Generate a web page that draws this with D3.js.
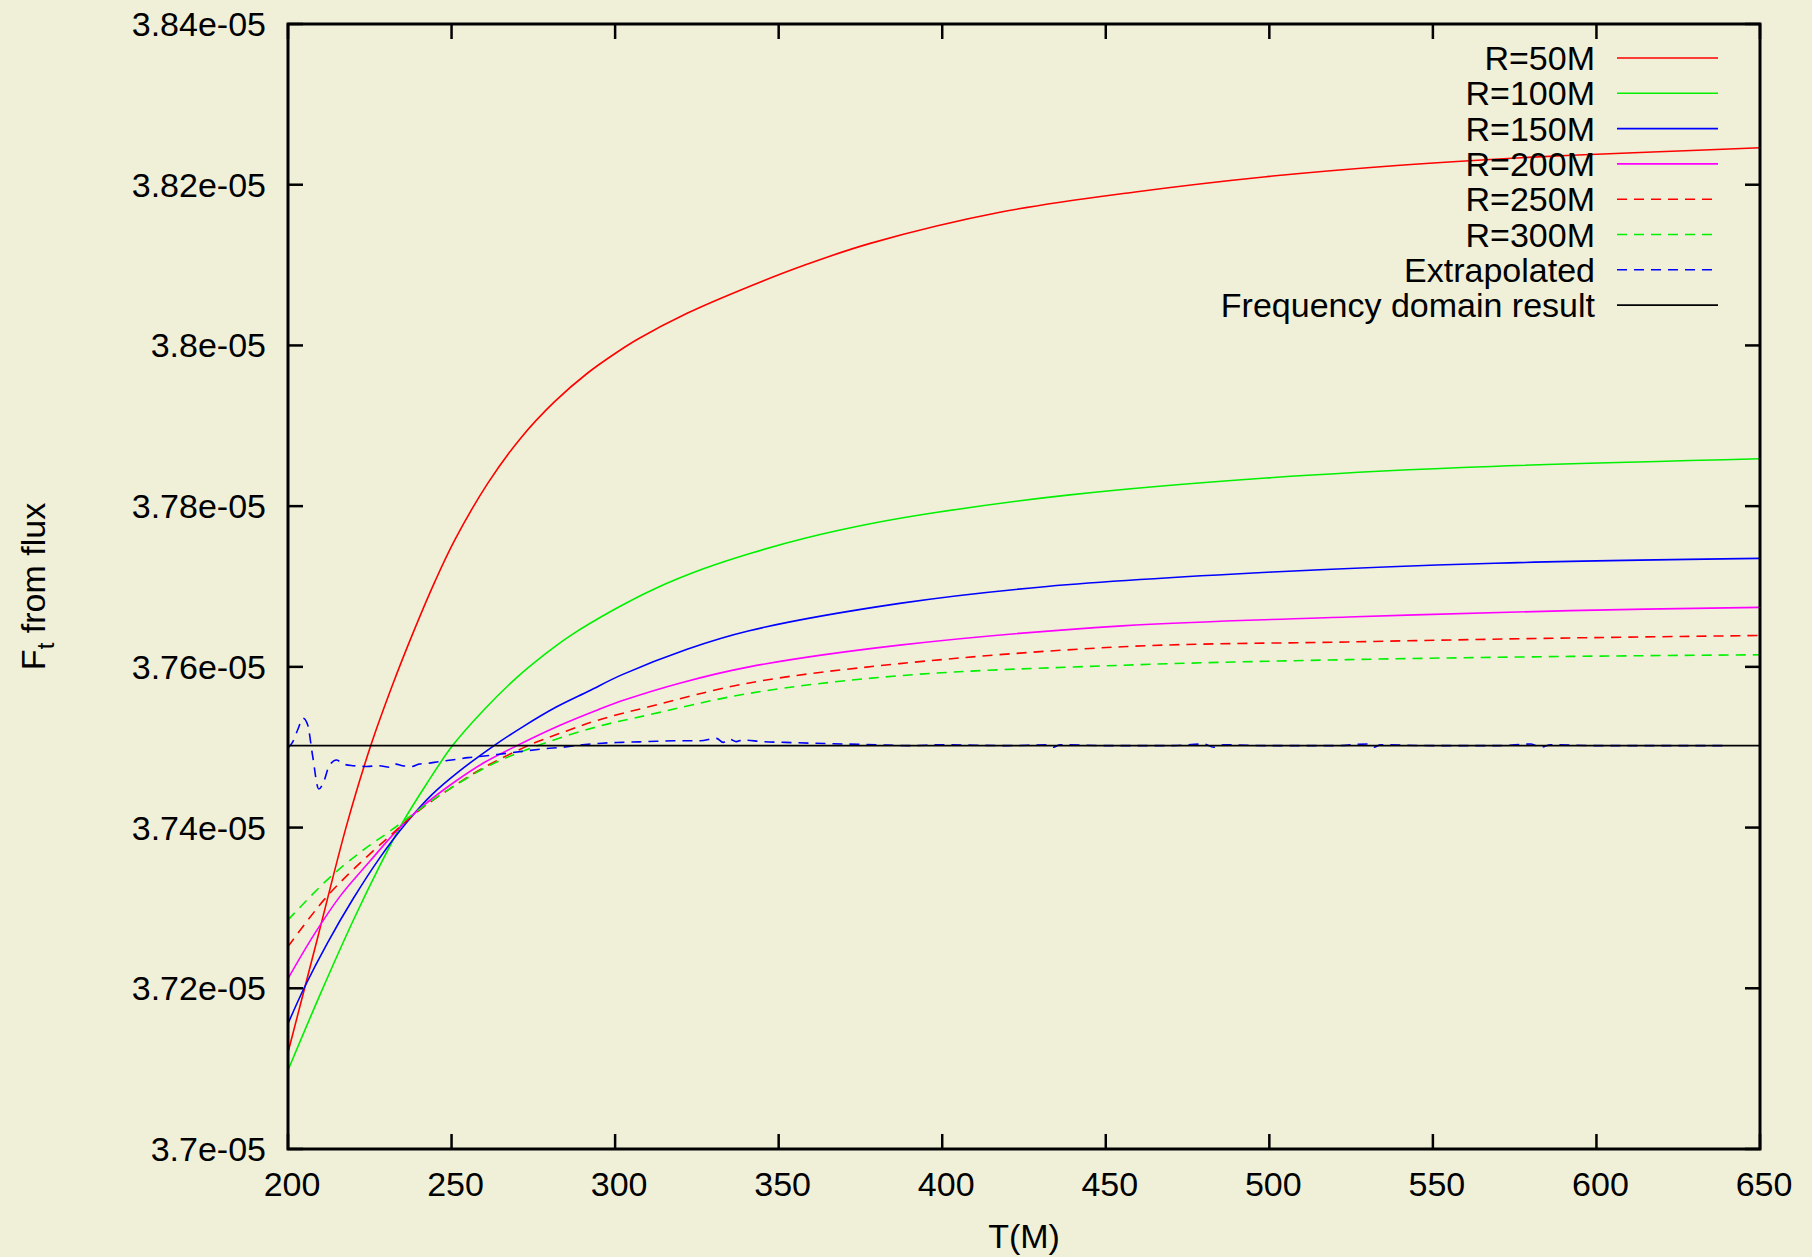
<!DOCTYPE html>
<html>
<head>
<meta charset="utf-8">
<script src="https://cdn.jsdelivr.net/npm/d3@7"></script>
<style>
  body { margin: 0; background: #f0f0d8; }
  svg { display: block; }
  text { font-family: "Liberation Sans", Arial, sans-serif; fill: #000; }
</style>
</head>
<body>
<svg id="chart" width="1812" height="1257"></svg>
<script>
// values of F_t are in units of 1e-05
var xTicks = [200, 250, 300, 350, 400, 450, 500, 550, 600, 650];
var yTicks = [3.70, 3.72, 3.74, 3.76, 3.78, 3.80, 3.82, 3.84];
var yTickLabels = ["3.7e-05", "3.72e-05", "3.74e-05", "3.76e-05", "3.78e-05", "3.8e-05", "3.82e-05", "3.84e-05"];

var labels = ["R=50M", "R=100M", "R=150M", "R=200M", "R=250M", "R=300M", "Extrapolated", "Frequency domain result"];

var r50T = [200, 209, 218, 225.3, 232, 238.2, 245, 251, 261, 271, 281.5, 291.7, 300, 307, 322, 339, 358, 378, 418, 459, 499, 539, 579, 619, 650];
var r50V = [3.7120, 3.7262, 3.7404, 3.7502, 3.7578, 3.7642, 3.7707, 3.7758, 3.7828, 3.7884, 3.7930, 3.7966, 3.7990, 3.8008, 3.8040, 3.8070, 3.8100, 3.8127, 3.8166, 3.8191, 3.8210, 3.8224, 3.8234, 3.8241, 3.8246];

var r100T = [200, 210, 220, 228, 235, 242, 250.3, 260, 270, 278, 286, 300, 312, 327, 342, 358, 378, 398, 439, 499, 559, 650];
var r100V = [3.7098, 3.7194, 3.7285, 3.7352, 3.7406, 3.7452, 3.7502, 3.7547, 3.7587, 3.7614, 3.7638, 3.7672, 3.7697, 3.7722, 3.7742, 3.7760, 3.7778, 3.7792, 3.7814, 3.7835, 3.7848, 3.7859];

var r150T = [200, 205, 212, 220, 228, 236, 244, 252, 263, 272, 282, 292, 302, 322, 341, 387, 432, 501, 569, 650];
var r150V = [3.7156, 3.7201, 3.7256, 3.7312, 3.7362, 3.7405, 3.7441, 3.7469, 3.7502, 3.7526, 3.7550, 3.7570, 3.7590, 3.7622, 3.7645, 3.7679, 3.7700, 3.7718, 3.7729, 3.7735];

var r200T = [200, 208, 216, 225, 233, 241, 251, 260, 270, 283, 295, 303, 320, 341, 387, 455, 524, 592, 650];
var r200V = [3.7212, 3.7267, 3.7315, 3.7358, 3.7395, 3.7426, 3.7457, 3.7481, 3.7502, 3.7527, 3.7547, 3.7559, 3.7580, 3.7600, 3.7627, 3.7651, 3.7662, 3.7670, 3.7674];

var r250T = [200, 211, 220, 231, 240, 249, 260, 274, 285, 295, 310, 341, 387, 455, 524, 592, 650];
var r250V = [3.7252, 3.7310, 3.7348, 3.7389, 3.7421, 3.7447, 3.7475, 3.7503, 3.7520, 3.7534, 3.7550, 3.7580, 3.7604, 3.7625, 3.7631, 3.7636, 3.7639];

var r300T = [200, 212, 222, 231, 240, 249, 262, 277, 295, 310, 341, 387, 455, 524, 592, 650];
var r300V = [3.7285, 3.7335, 3.7369, 3.7395, 3.7422, 3.7447, 3.7478, 3.7503, 3.7526, 3.7540, 3.7567, 3.7589, 3.7602, 3.7609, 3.7613, 3.7615];

var extT = [200, 201.5, 203, 204.6, 206, 207.5, 209.4, 211, 212.5, 214.8, 217, 220, 224, 228, 231, 233, 235, 238, 240, 243, 246, 250, 255, 260, 266, 272, 278, 284, 290, 296, 302, 310, 318, 326, 331, 333, 335, 337, 339, 345, 352, 360, 370, 380, 390, 400, 420, 432, 434, 436, 450, 470, 480, 483, 486, 500, 520, 530, 532, 534, 550, 570, 580, 583, 586, 600, 620, 640];
var extV = [3.7499, 3.7507, 3.7522, 3.7536, 3.7528, 3.7490, 3.7448, 3.7458, 3.7476, 3.7484, 3.7479, 3.7477, 3.7476, 3.7477, 3.7475, 3.7479, 3.7477, 3.7476, 3.7479, 3.7480, 3.7482, 3.7484, 3.7487, 3.7489, 3.7492, 3.7495, 3.7498, 3.7500, 3.7503, 3.7505, 3.7506, 3.7507, 3.7508, 3.7508, 3.7511, 3.7506, 3.7510, 3.7507, 3.7509, 3.7507, 3.7506, 3.7505, 3.7504, 3.7503, 3.7502, 3.7503, 3.7502, 3.7503, 3.7500, 3.7503, 3.7502, 3.7502, 3.7504, 3.7500, 3.7503, 3.7502, 3.7502, 3.7504, 3.7500, 3.7503, 3.7502, 3.7502, 3.7504, 3.7500, 3.7503, 3.7502, 3.7502, 3.7502];

var freqT = [200, 650];
var freqV = [3.7502, 3.7502];

var colors = ["#ff0000", "#00f000", "#0000ff", "#ff00ff", "#ff0000", "#00f000", "#0000ff", "#000000"];
var dashes = [null, null, null, null, "10,7", "10,7", "10,7", null];

var svg = d3.select("#chart"),
    margin = {top: 24, right: 52, bottom: 108, left: 288},
    width = +svg.attr("width") - margin.left - margin.right,
    height = +svg.attr("height") - margin.top - margin.bottom;

var x = d3.scaleLinear().domain([200, 650]).range([0, width]);
var y = d3.scaleLinear().domain([3.70, 3.84]).range([height, 0]);

svg.append("rect").attr("width", 1812).attr("height", 1257).attr("fill", "#f0f0d8");

var g = svg.append("g")
    .attr("transform", "translate(" + margin.left + "," + margin.top + ")");

g.append("clipPath").attr("id", "clip")
  .append("rect").attr("width", width).attr("height", height);

var series = [
  [r50T, r50V], [r100T, r100V], [r150T, r150V], [r200T, r200V],
  [r250T, r250V], [r300T, r300V], [extT, extV], [freqT, freqV]
];

var smooth = d3.line()
    .x(function(d) { return x(d[0]); })
    .y(function(d) { return y(d[1]); })
    .curve(d3.curveCatmullRom.alpha(0.5));

var rough = d3.line()
    .x(function(d) { return x(d[0]); })
    .y(function(d) { return y(d[1]); })
    .curve(d3.curveMonotoneX);

// ticks, mirrored on all four sides, pointing inward
var tl = 15;
var ticks = g.append("g").attr("stroke", "#000").attr("stroke-width", 2.5);
xTicks.forEach(function(t) {
  ticks.append("line").attr("x1", x(t)).attr("x2", x(t)).attr("y1", height).attr("y2", height - tl);
  ticks.append("line").attr("x1", x(t)).attr("x2", x(t)).attr("y1", 0).attr("y2", tl);
});
yTicks.forEach(function(t) {
  ticks.append("line").attr("x1", 0).attr("x2", tl).attr("y1", y(t)).attr("y2", y(t));
  ticks.append("line").attr("x1", width).attr("x2", width - tl).attr("y1", y(t)).attr("y2", y(t));
});

g.selectAll(".xlab")
  .data(xTicks)
  .enter().append("text")
    .attr("class", "xlab")
    .attr("x", function(d) { return x(d) + 4; })
    .attr("y", height + 47)
    .attr("text-anchor", "middle")
    .style("font-size", "34px")
    .text(function(d) { return d; });

g.selectAll(".ylab")
  .data(yTicks)
  .enter().append("text")
    .attr("class", "ylab")
    .attr("x", -22)
    .attr("y", function(d) { return y(d) + 12; })
    .attr("text-anchor", "end")
    .style("font-size", "34px")
    .text(function(d, i) { return yTickLabels[i]; });

// curves
var curves = g.append("g").attr("clip-path", "url(#clip)");
series.forEach(function(s, i) {
  var pts = s[0].map(function(t, j) { return [t, s[1][j]]; });
  curves.append("path")
    .datum(pts)
    .attr("fill", "none")
    .attr("stroke", colors[i])
    .attr("stroke-width", 1.6)
    .attr("stroke-dasharray", dashes[i])
    .attr("d", i === 6 ? rough : smooth);
});

// legend
var key = g.append("g");
labels.forEach(function(lab, i) {
  var ky = 34 + i * 35.3;
  key.append("text")
    .attr("x", 1595 - margin.left)
    .attr("y", ky + 12)
    .attr("text-anchor", "end")
    .style("font-size", "34px")
    .text(lab);
  key.append("line")
    .attr("x1", 1617 - margin.left).attr("x2", 1718 - margin.left)
    .attr("y1", ky).attr("y2", ky)
    .attr("stroke", colors[i])
    .attr("stroke-width", 1.6)
    .attr("stroke-dasharray", dashes[i]);
});

// frame
g.append("rect")
  .attr("width", width).attr("height", height)
  .attr("fill", "none").attr("stroke", "#000").attr("stroke-width", 3);

// axis titles
g.append("text")
  .attr("x", width / 2)
  .attr("y", height + 99)
  .attr("text-anchor", "middle")
  .style("font-size", "34px")
  .text("T(M)");

var yt = svg.append("text")
  .attr("transform", "translate(45," + (margin.top + height / 2) + ") rotate(-90)")
  .attr("text-anchor", "middle")
  .style("font-size", "34px");
yt.append("tspan").text("F");
yt.append("tspan").attr("dy", 9).style("font-size", "24px").text("t");
yt.append("tspan").attr("dy", -9).text(" from flux");
</script>
</body>
</html>
